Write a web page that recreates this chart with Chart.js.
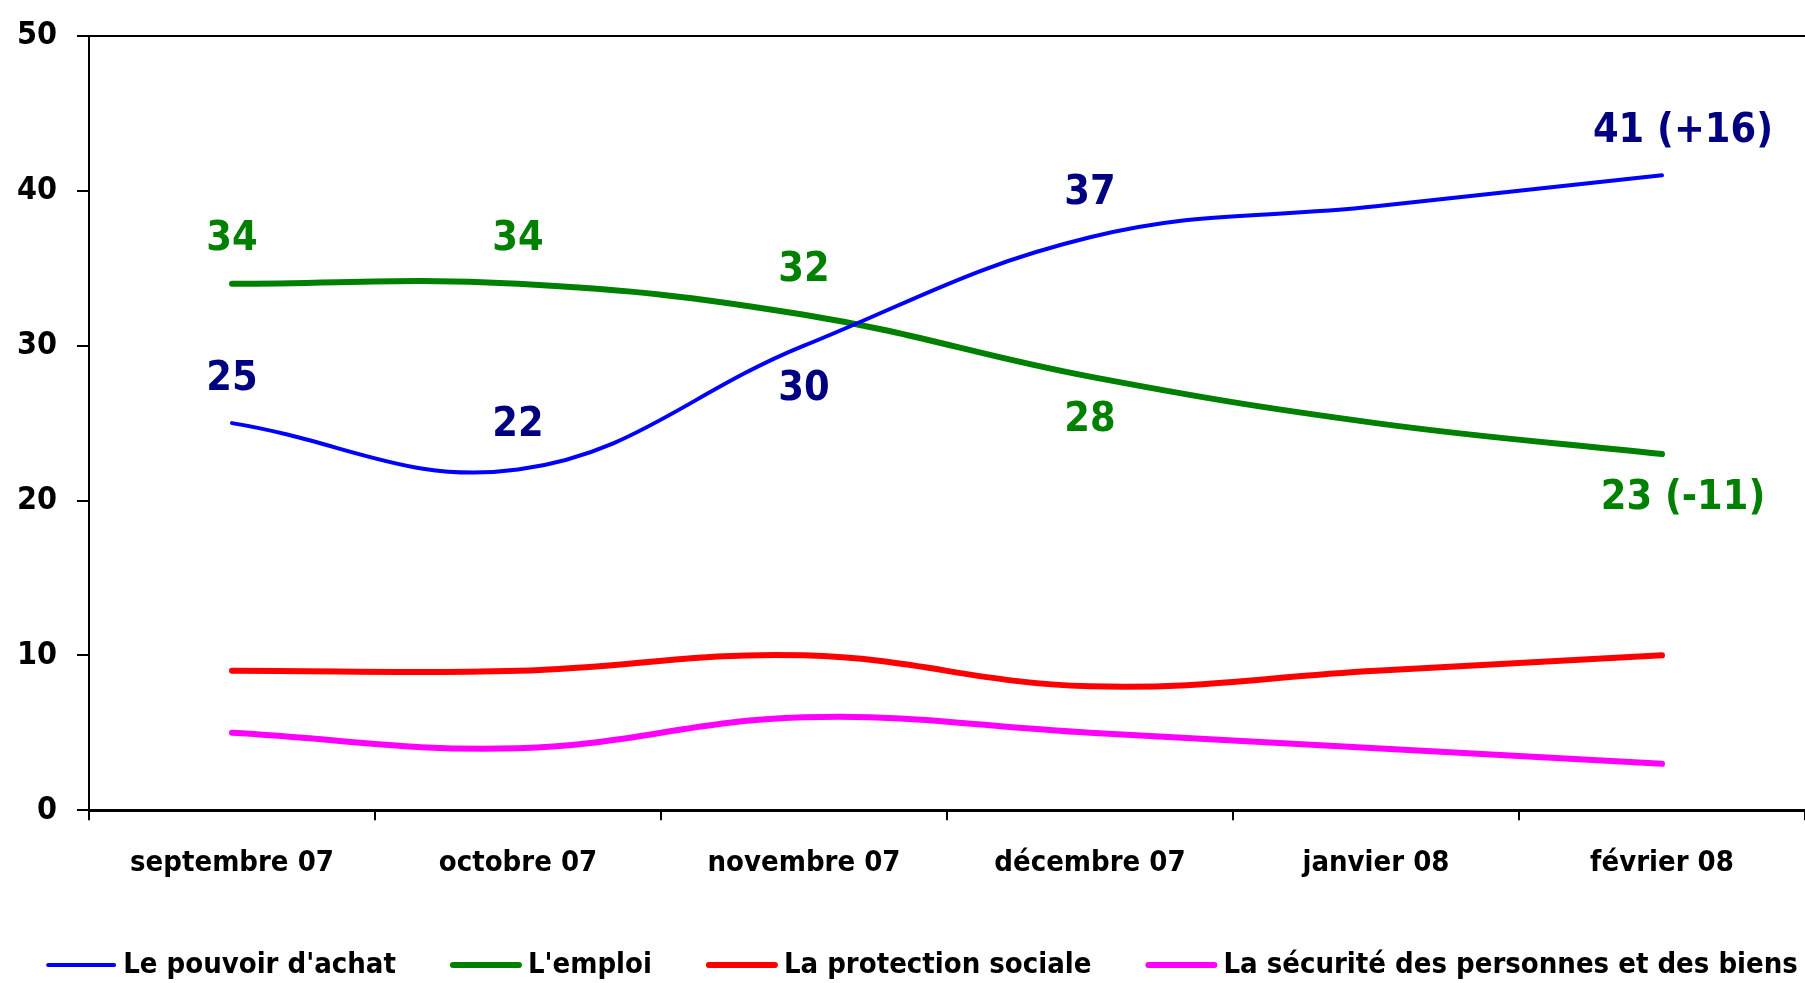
<!DOCTYPE html>
<html>
<head>
<meta charset="utf-8">
<script src="https://cdn.jsdelivr.net/npm/chart.js@4"></script>
<style>
  html, body { margin: 0; padding: 0; background: #fff; }
  #wrap { width: 1805px; height: 983px; }
</style>
</head>
<body>
<div id="wrap"><canvas id="canvas"></canvas></div>
<script>
const months = ['septembre 07', 'octobre 07', 'novembre 07', 'décembre 07', 'janvier 08', 'février 08'];
const pouvoirAchat = [25, 22, 30, 37, 39, 41];
const emploi = [34, 34, 32, 28, 25, 23];
const protectionSociale = [9, 9, 10, 8, 9, 10];
const securite = [5, 4, 6, 5, 4, 3];
const yTicks = [0, 10, 20, 30, 40, 50];

// étiquettes affichées sur les courbes
const pouvoirLabels = ['25', '22', '30', '37', '', '41 (+16)'];
const emploiLabels = ['34', '34', '32', '28', '', '23 (-11)'];
// -1 = au-dessus du point, 1 = en dessous
const pouvoirSide = [-1, -1, 1, -1, 0, -1];
const emploiSide = [-1, -1, -1, 1, 0, 1];

const FONT = "'DejaVu Sans Condensed', 'DejaVu Sans', sans-serif";
Chart.defaults.font.family = FONT;
Chart.defaults.font.weight = 'bold';
Chart.defaults.color = '#000';

const valueLabels = {
  id: 'valueLabels',
  afterDatasetsDraw(chart) {
    const ctx = chart.ctx;
    const sets = [
      [0, pouvoirLabels, pouvoirSide, '#000080'],
      [1, emploiLabels, emploiSide, '#008000']
    ];
    ctx.save();
    ctx.font = 'bold 41px ' + FONT;
    ctx.textAlign = 'center';
    ctx.textBaseline = 'middle';
    sets.forEach(([idx, texts, sides, color]) => {
      const pts = chart.getDatasetMeta(idx).data;
      texts.forEach((t, i) => {
        if (!t) return;
        const p = pts[i];
        const dx = t.length > 3 ? 21 : 0;
        ctx.fillStyle = color;
        ctx.fillText(t, p.x + dx, p.y + sides[i] * 44);
      });
    });
    ctx.restore();
  }
};

// ligne du haut du cadre
const topLine = {
  id: 'topLine',
  beforeDatasetsDraw(chart) {
    const {ctx, chartArea} = chart;
    ctx.save();
    ctx.strokeStyle = '#000';
    ctx.lineWidth = 2;
    ctx.beginPath();
    ctx.moveTo(chartArea.left, chartArea.top);
    ctx.lineTo(chartArea.right, chartArea.top);
    ctx.stroke();
    ctx.restore();
  }
};

// légende sur une seule ligne, tracée à partir des séries
const lineLegend = {
  id: 'lineLegend',
  afterDraw(chart) {
    const ctx = chart.ctx;
    const sample = 66, gapText = 9, gapItem = 57;
    ctx.save();
    ctx.font = 'bold 29px ' + FONT;
    ctx.textBaseline = 'middle';
    ctx.textAlign = 'left';
    const sets = chart.data.datasets;
    let total = 0;
    sets.forEach((ds, i) => {
      total += sample + gapText + ctx.measureText(ds.label).width;
      if (i < sets.length - 1) total += gapItem;
    });
    let x = (chart.width + 41 - total) / 2;
    const y = chart.height - 18;
    sets.forEach(ds => {
      ctx.strokeStyle = ds.borderColor;
      ctx.lineWidth = ds.borderWidth;
      ctx.lineCap = 'round';
      ctx.beginPath();
      ctx.moveTo(x, y);
      ctx.lineTo(x + sample, y);
      ctx.stroke();
      ctx.fillStyle = '#000';
      ctx.fillText(ds.label, x + sample + gapText, y);
      x += sample + gapText + ctx.measureText(ds.label).width + gapItem;
    });
    ctx.restore();
  }
};

function serie(label, data, color, width) {
  return {
    label: label,
    data: data,
    borderColor: color,
    backgroundColor: color,
    borderWidth: width,
    borderCapStyle: 'round',
    pointRadius: 0,
    tension: 0.4,
    fill: false
  };
}

const ctx = document.getElementById('canvas').getContext('2d');
const myChart = new Chart(ctx, {
  type: 'line',
  data: {
    labels: months,
    datasets: [
      serie("Le pouvoir d'achat", pouvoirAchat, '#0000FF', 4),
      serie("L'emploi", emploi, '#008000', 6),
      serie('La protection sociale', protectionSociale, '#FF0000', 6),
      serie('La sécurité des personnes et des biens', securite, '#FF00FF', 6)
    ]
  },
  options: {
    responsive: true,
    maintainAspectRatio: false,
    animation: false,
    layout: { padding: { left: 0, right: 0, top: 36, bottom: 76 } },
    plugins: {
      legend: { display: false },
      tooltip: { enabled: false }
    },
    scales: {
      x: {
        offset: true,
        grid: { offset: true, drawOnChartArea: false, color: '#000', lineWidth: 2, tickLength: 10 },
        border: { color: '#000', width: 3 },
        ticks: { padding: 26, maxRotation: 0, font: { size: 29, weight: 'bold' }, color: '#000' }
      },
      y: {
        min: 0,
        max: 50,
        afterBuildTicks(axis) { axis.ticks = yTicks.map(v => ({ value: v })); },
        afterFit(axis) { axis.width = 89; axis.paddingTop = 0; axis.paddingBottom = 0; },
        grid: { drawOnChartArea: false, color: '#000', lineWidth: 2, tickLength: 12 },
        border: { color: '#000', width: 2 },
        ticks: { padding: 20, font: { size: 32, weight: 'bold', lineHeight: 1 }, color: '#000' }
      }
    }
  },
  plugins: [topLine, valueLabels, lineLegend]
});
</script>
</body>
</html>
